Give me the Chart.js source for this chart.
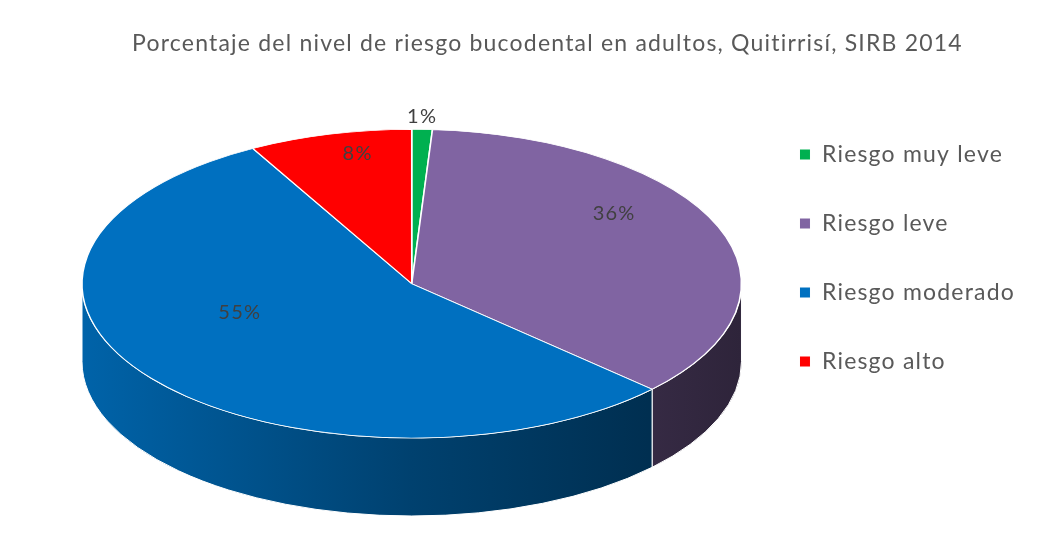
<!DOCTYPE html>
<html>
<head>
<meta charset="utf-8">
<script src="https://cdn.jsdelivr.net/npm/chart.js@4.4.0/dist/chart.umd.min.js"></script>
<style>
    html, body { margin: 0; padding: 0; background: #fff; }
</style>
</head>
<body>
<canvas id="riskChart" width="1064" height="542"></canvas>
<script>
const categories = ['Riesgo muy leve', 'Riesgo leve', 'Riesgo moderado', 'Riesgo alto'];
const percentages = [1, 36, 55, 8];
const sliceColors = ['#00b050', '#8064a2', '#0070c0', '#ff0000'];
const chartTitle = 'Porcentaje del nivel de riesgo bucodental en adultos, Quitirrisí, SIRB 2014';

const TILT = 0.468;   // height / width of the top face
const DEPTH = 78;     // thickness of the disc
const INSET = 12;     // gap between chart area sides and the disc

function shade(hex, f) {
    const n = parseInt(hex.slice(1), 16);
    const r = Math.round(((n >> 16) & 255) * f);
    const g = Math.round(((n >> 8) & 255) * f);
    const b = Math.round((n & 255) * f);
    return 'rgb(' + r + ',' + g + ',' + b + ')';
}

function geometry(chart) {
    const area = chart.chartArea;
    const rx = (area.right - area.left) / 2 - INSET;
    const ry = rx * TILT;
    return { ex: (area.left + area.right) / 2, ey: area.bottom - DEPTH - ry, rx: rx, ry: ry };
}

// wider text, closer to the original Calibri look
const spacing = {
    id: 'spacing',
    beforeUpdate(chart) { chart.ctx.letterSpacing = '1.2px'; },
    beforeDraw(chart) { chart.ctx.letterSpacing = '1.2px'; }
};

// squash the flat pie into a tilted disc and draw its outer wall
const pie3d = {
    id: 'pie3d',
    beforeDatasetsDraw(chart) {
        const ctx = chart.ctx;
        const g = geometry(chart);
        const arcs = chart.getDatasetMeta(0).data;

        arcs.forEach((arc, i) => {
            const grad = ctx.createLinearGradient(g.ex - g.rx, 0, g.ex + g.rx, 0);
            grad.addColorStop(0, shade(sliceColors[i], 0.88));
            grad.addColorStop(0.5, shade(sliceColors[i], 0.58));
            grad.addColorStop(1, shade(sliceColors[i], 0.36));
            for (let k = -1; k <= 1; k++) {
                const a0 = Math.max(arc.startAngle, 2 * Math.PI * k);
                const a1 = Math.min(arc.endAngle, 2 * Math.PI * k + Math.PI);
                if (a1 <= a0) continue;
                ctx.beginPath();
                ctx.ellipse(g.ex, g.ey, g.rx, g.ry, 0, a0, a1);
                ctx.ellipse(g.ex, g.ey + DEPTH, g.rx, g.ry, 0, a1, a0, true);
                ctx.closePath();
                ctx.fillStyle = grad;
                ctx.fill();
                ctx.strokeStyle = '#ffffff';
                ctx.lineWidth = 1;
                ctx.stroke();
            }
        });

        const first = arcs[0];
        const R = first.outerRadius;
        ctx.save();
        ctx.translate(g.ex, g.ey);
        ctx.scale(g.rx / R, g.ry / R);
        ctx.translate(-first.x, -first.y);
    },
    afterDatasetsDraw(chart) {
        const ctx = chart.ctx;
        ctx.restore();

        const g = geometry(chart);
        const arcs = chart.getDatasetMeta(0).data;
        ctx.save();
        ctx.font = '20px Lato';
        ctx.fillStyle = '#404040';
        ctx.textAlign = 'center';
        ctx.textBaseline = 'middle';
        arcs.forEach((arc, i) => {
            const mid = (arc.startAngle + arc.endAngle) / 2;
            let x, y;
            if (percentages[i] < 3) {
                // tiny slice: label sits just outside the rim
                x = g.ex + g.rx * Math.cos(mid);
                y = g.ey + g.ry * Math.sin(mid) - 13;
            } else {
                x = g.ex + 0.66 * g.rx * Math.cos(mid);
                y = g.ey - 33 + 0.65 * g.ry * Math.sin(mid);
            }
            ctx.fillText(percentages[i] + '%', x, y);
        });
        ctx.restore();
    }
};

new Chart(document.getElementById('riskChart'), {
    type: 'pie',
    data: {
        labels: categories,
        datasets: [{
            data: percentages,
            backgroundColor: sliceColors,
            borderColor: '#ffffff',
            borderWidth: 1
        }]
    },
    options: {
        responsive: false,
        animation: false,
        layout: {
            padding: { left: 70, right: 39, top: 0, bottom: 26 }
        },
        plugins: {
            title: {
                display: true,
                text: chartTitle,
                color: '#595959',
                font: { family: 'Lato', size: 23, weight: 'normal' },
                padding: { top: 30, bottom: 30 }
            },
            legend: {
                position: 'right',
                align: 'center',
                labels: {
                    boxWidth: 11,
                    boxHeight: 11,
                    padding: 46,
                    color: '#595959',
                    font: { family: 'Lato', size: 23 }
                }
            },
            tooltip: { enabled: false }
        }
    },
    plugins: [spacing, pie3d]
});
</script>
</body>
</html>
